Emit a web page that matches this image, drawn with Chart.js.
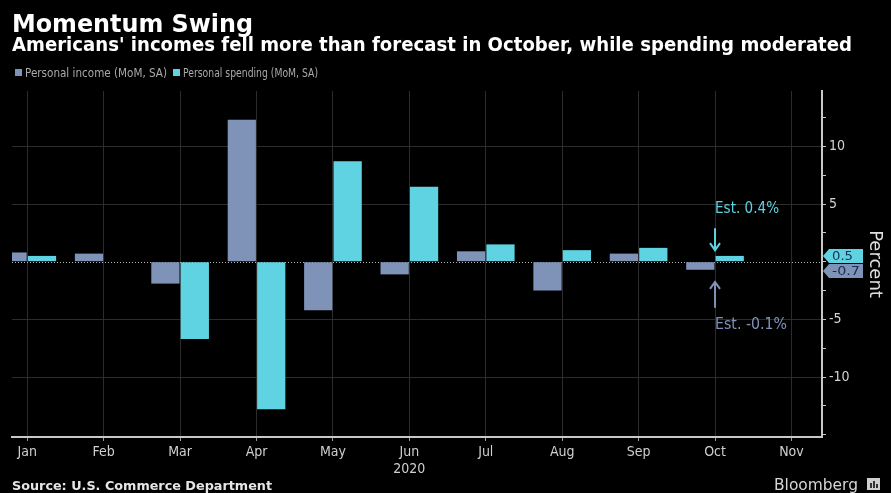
<!DOCTYPE html>
<html>
<head>
<meta charset="utf-8">
<script src="https://cdn.jsdelivr.net/npm/chart.js@4/dist/chart.umd.min.js"></script>
<style>
  html, body { margin: 0; padding: 0; background: #000; }
  #wrap { width: 891px; height: 493px; }
</style>
</head>
<body>
<div id="wrap"><canvas id="chart" width="891" height="493"></canvas></div>
<script>
const months = ['Jan', 'Feb', 'Mar', 'Apr', 'May', 'Jun', 'Jul', 'Aug', 'Sep', 'Oct', 'Nov'];
const income = [0.8, 0.7, -1.9, 12.3, -4.2, -1.1, 0.9, -2.5, 0.7, -0.7];
const spending = [0.5, 0.0, -6.7, -12.8, 8.7, 6.5, 1.5, 1.0, 1.2, 0.5];
const yTickValues = [-15, -12.5, -10, -7.5, -5, -2.5, 0, 2.5, 5, 7.5, 10, 12.5];
const yLabelValues = [-10, -5, 5, 10];
const incomeEstimate = -0.1;
const spendingEstimate = 0.4;

const INCOME_COLOR = '#7f92b7';
const SPENDING_COLOR = '#5fd3e1';
const FONT = '"DejaVu Sans", sans-serif';
const NARROW = '"DejaVu Sans Condensed", "DejaVu Sans", sans-serif';

Chart.defaults.font.family = NARROW;

function fitText(ctx, text, x, y, font, width) {
  ctx.font = font;
  const w = ctx.measureText(text).width;
  ctx.save();
  ctx.translate(x, y);
  if (width) ctx.scale(width / w, 1);
  ctx.fillText(text, 0, 0);
  ctx.restore();
}

function arrow(ctx, x, fromY, toY, color) {
  const dir = toY > fromY ? 1 : -1;
  ctx.strokeStyle = color;
  ctx.lineWidth = 2;
  ctx.setLineDash([]);
  ctx.beginPath();
  ctx.moveTo(x, fromY);
  ctx.lineTo(x, toY);
  ctx.moveTo(x - 5, toY - dir * 7);
  ctx.lineTo(x, toY);
  ctx.lineTo(x + 5, toY - dir * 7);
  ctx.stroke();
}

function valueBox(ctx, x, yc, text, color) {
  const h = 14;
  ctx.fillStyle = color;
  ctx.beginPath();
  ctx.moveTo(x, yc);
  ctx.lineTo(x + 6, yc - h / 2);
  ctx.lineTo(x + 40, yc - h / 2);
  ctx.lineTo(x + 40, yc + h / 2);
  ctx.lineTo(x + 6, yc + h / 2);
  ctx.closePath();
  ctx.fill();
  ctx.fillStyle = '#1b2f4f';
  ctx.textAlign = 'left';
  ctx.textBaseline = 'middle';
  fitText(ctx, text, x + 9, yc + 1, '13px ' + FONT, text.length * 7);
}

const background = {
  id: 'background',
  beforeDraw(chart) {
    const { ctx, width, height } = chart;
    ctx.save();
    ctx.fillStyle = '#000';
    ctx.fillRect(0, 0, width, height);
    ctx.restore();
  },
  beforeDatasetsDraw(chart) {
    const { ctx, chartArea, scales: { y } } = chart;
    const y0 = Math.round(y.getPixelForValue(0)) + 0.5;
    ctx.save();
    ctx.strokeStyle = '#b5b5b5';
    ctx.lineWidth = 1;
    ctx.setLineDash([1, 2]);
    ctx.beginPath();
    ctx.moveTo(chartArea.left, y0);
    ctx.lineTo(chartArea.right, y0);
    ctx.stroke();
    ctx.restore();
  },
};

const overlay = {
  id: 'overlay',
  afterDraw(chart) {
    const { ctx, chartArea, scales: { x, y } } = chart;
    ctx.save();
    ctx.textAlign = 'left';
    ctx.textBaseline = 'alphabetic';

    // titles
    ctx.fillStyle = '#ffffff';
    fitText(ctx, 'Momentum Swing', 12, 32, 'bold 25px ' + FONT, 241);
    fitText(ctx, "Americans' incomes fell more than forecast in October, while spending moderated",
      12, 51, 'bold 19px ' + FONT, 840);

    // legend
    ctx.fillStyle = INCOME_COLOR;
    ctx.fillRect(15, 69, 7, 7);
    ctx.fillStyle = SPENDING_COLOR;
    ctx.fillRect(173, 69, 7, 7);
    ctx.fillStyle = '#aaaaaa';
    fitText(ctx, 'Personal income (MoM, SA)', 25, 77, '12px ' + FONT, 142);
    fitText(ctx, 'Personal spending (MoM, SA)', 183, 77, '12px ' + FONT, 135);

    // estimates for October
    const oct = x.getPixelForValue(9);
    ctx.fillStyle = SPENDING_COLOR;
    fitText(ctx, 'Est. ' + spendingEstimate + '%', oct, y.getPixelForValue(4.2), '15px ' + FONT, 64);
    arrow(ctx, oct, y.getPixelForValue(2.9), y.getPixelForValue(1.0), SPENDING_COLOR);
    arrow(ctx, oct, y.getPixelForValue(-4.0), y.getPixelForValue(-1.75), INCOME_COLOR);
    ctx.fillStyle = INCOME_COLOR;
    fitText(ctx, 'Est. ' + incomeEstimate + '%', oct, y.getPixelForValue(-5.8), '15px ' + FONT, 72);

    // last-value boxes on the right axis
    const last = chartArea.right + 1;
    const ySpend = y.getPixelForValue(spending[spending.length - 1]);
    let yInc = y.getPixelForValue(income[income.length - 1]);
    if (yInc - ySpend < 15) yInc = ySpend + 15;
    valueBox(ctx, last, ySpend, String(spending[spending.length - 1]), SPENDING_COLOR);
    valueBox(ctx, last, yInc, String(income[income.length - 1]), INCOME_COLOR);

    // footer
    ctx.textAlign = 'left';
    ctx.textBaseline = 'alphabetic';
    ctx.fillStyle = '#e6e6e6';
    fitText(ctx, 'Source: U.S. Commerce Department', 12, 490, 'bold 13px ' + FONT, 260);
    ctx.fillStyle = '#d6d6d6';
    fitText(ctx, 'Bloomberg', 774, 490, '16px ' + FONT, 84);
    ctx.fillStyle = '#cfcfcf';
    ctx.fillRect(867, 478, 13, 12);
    ctx.fillStyle = '#333';
    ctx.fillRect(870, 483, 2, 5);
    ctx.fillRect(873, 481, 2, 7);
    ctx.fillRect(876, 484, 2, 4);
    ctx.restore();
  },
};

const ctx = document.getElementById('chart').getContext('2d');

new Chart(ctx, {
  type: 'bar',
  data: {
    datasets: [
      {
        label: 'Personal income (MoM, SA)',
        data: income.map((v, i) => ({ x: i, y: v })),
        backgroundColor: INCOME_COLOR,
      },
      {
        label: 'Personal spending (MoM, SA)',
        data: spending.map((v, i) => ({ x: i, y: v })),
        backgroundColor: SPENDING_COLOR,
      },
    ],
  },
  options: {
    responsive: false,
    devicePixelRatio: 1,
    animation: false,
    categoryPercentage: 0.77,
    barPercentage: 0.96,
    layout: {
      padding: { top: 91, left: 12, right: 0, bottom: 0 },
    },
    plugins: {
      legend: { display: false },
      title: { display: false },
      tooltip: { enabled: false },
    },
    scales: {
      x: {
        type: 'linear',
        min: -0.2,
        max: 10.4,
        offset: false,
        afterBuildTicks: (scale) => {
          scale.ticks = months.map((m, i) => ({ value: i }));
        },
        afterFit: (scale) => {
          scale.height = 56;
        },
        ticks: {
          color: '#cfcfcf',
          font: { size: 14 },
          padding: 3,
          maxRotation: 0,
          autoSkip: false,
          callback: (value) => (value === 5 ? [months[value], '2020'] : months[value]),
        },
        grid: {
          offset: false,
          color: '#2c2c2c',
          tickColor: '#9a9a9a',
          tickLength: 4,
        },
        border: { color: '#c8c8c8', width: 2 },
      },
      y: {
        position: 'right',
        min: -15.2,
        max: 14.8,
        afterBuildTicks: (scale) => {
          scale.ticks = yTickValues.map((v) => ({ value: v }));
        },
        afterFit: (scale) => {
          scale.width = 69;
        },
        ticks: {
          color: '#d4d4d4',
          font: { size: 14 },
          padding: 3,
          autoSkip: false,
          callback: (value) => (yLabelValues.includes(value) ? String(value) : ''),
        },
        grid: {
          color: (c) => (c.tick && yLabelValues.includes(c.tick.value) ? '#2c2c2c' : 'rgba(0,0,0,0)'),
          tickColor: '#c8c8c8',
          tickLength: 4,
        },
        border: { color: '#c8c8c8', width: 2 },
        title: {
          display: true,
          text: 'Percent',
          color: '#e0e0e0',
          font: { size: 18, family: FONT },
          padding: { top: 6, bottom: 0 },
        },
      },
    },
  },
  plugins: [background, overlay],
});
</script>
</body>
</html>
